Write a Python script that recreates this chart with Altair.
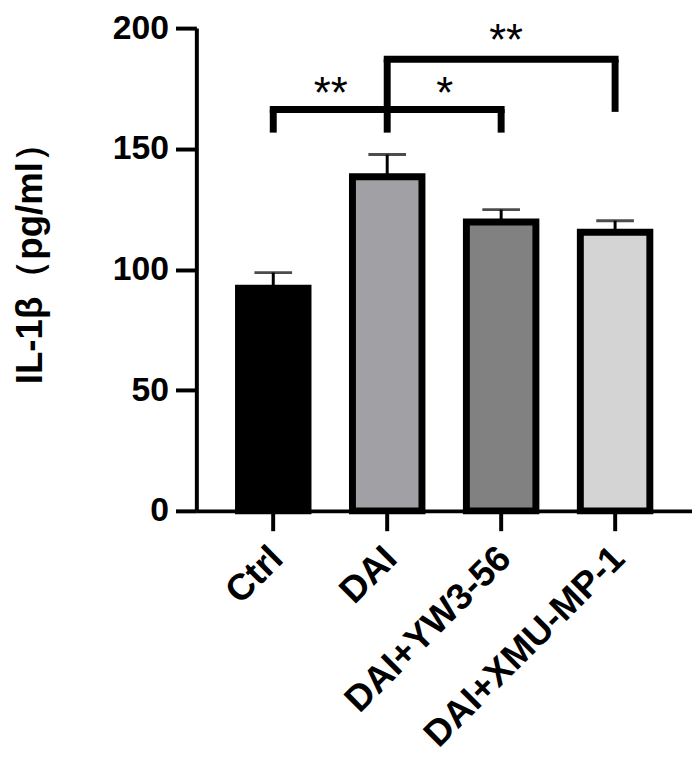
import altair as alt
import pandas as pd

groups = ["Ctrl", "DAI", "DAI+YW3-56", "DAI+XMU-MP-1"]
means = [92.2, 138.4, 119.7, 115.4]
errs = [6.5, 9.2, 5.1, 4.8]
fills = ["#000000", "#a1a1a5", "#818181", "#d4d4d4"]

# significance brackets
h_from = ["Ctrl", "DAI", "DAI"]
h_to = ["DAI", "DAI+YW3-56", "DAI+XMU-MP-1"]
h_y = [166.3, 166.3, 187.1]
leg_x = ["Ctrl", "DAI", "DAI+YW3-56", "DAI", "DAI+XMU-MP-1"]
leg_top = [166.3, 166.3, 166.3, 187.1, 187.1]
leg_bottom = [156.7, 156.7, 156.7, 166.3, 165.3]
star_lo_x = ["Ctrl", "DAI"]
star_lo_txt = ["**", "*"]
star_lo_y = [166.3, 166.3]
star_hi_x = ["DAI+YW3-56"]
star_hi_txt = ["**"]
star_hi_y = [187.1]

FONT = "Liberation Sans"

bars_df = pd.DataFrame({
    "group": groups,
    "mean": means,
    "upper": [m + e for m, e in zip(means, errs)],
})
h_df = pd.DataFrame({"a": h_from, "b": h_to, "y": h_y})
leg_df = pd.DataFrame({"g": leg_x, "y1": leg_top, "y2": leg_bottom})
slo_df = pd.DataFrame({"g": star_lo_x, "t": star_lo_txt, "y": star_lo_y})
shi_df = pd.DataFrame({"g": star_hi_x, "t": star_hi_txt, "y": star_hi_y})

xscale = alt.Scale(domain=groups, paddingInner=0.39, paddingOuter=0.37)
yscale = alt.Scale(domain=[0, 200], nice=False)

xenc = alt.X("group:N", scale=xscale, sort=groups,
             axis=alt.Axis(title=None, labelAngle=-45, labelFontSize=37,
                           labelFont=FONT, labelFontWeight="bold",
                           labelColor="black", tickSize=20, tickWidth=4,
                           tickColor="black", domainWidth=4,
                           domainColor="black", labelPadding=22,
                           labelOffset=4, labelLimit=0))
yenc = alt.Y("mean:Q", scale=yscale,
             axis=alt.Axis(title="IL-1β（pg/ml）", values=[0, 50, 100, 150, 200],
                           labelFontSize=34, labelFont=FONT,
                           labelFontWeight="bold", labelColor="black",
                           tickSize=21, tickWidth=4, tickColor="black",
                           domainWidth=4, domainColor="black",
                           labelPadding=7, titleFontSize=37, titleFont=FONT,
                           titleFontWeight="bold", titleColor="black",
                           titlePadding=63, titleY=228, grid=False))

base = alt.Chart(bars_df)

err_line = base.mark_rule(color="black", strokeWidth=3).encode(
    x=alt.X("group:N", scale=xscale, sort=groups),
    y=alt.Y("mean:Q", scale=yscale),
    y2="upper:Q",
)
err_cap = base.mark_tick(color="black", size=38, thickness=3, orient="horizontal").encode(
    x=alt.X("group:N", scale=xscale, sort=groups),
    y=alt.Y("upper:Q", scale=yscale),
)
bars = base.mark_bar(stroke="black", strokeWidth=7).encode(
    x=xenc,
    y=yenc,
    fill=alt.Fill("group:N", scale=alt.Scale(domain=groups, range=fills), legend=None),
)

hlines = alt.Chart(h_df).mark_rule(color="black", strokeWidth=7, strokeCap="square").encode(
    x=alt.X("a:N", scale=xscale, sort=groups),
    x2="b:N",
    y=alt.Y("y:Q", scale=yscale),
)
legs = alt.Chart(leg_df).mark_rule(color="black", strokeWidth=7).encode(
    x=alt.X("g:N", scale=xscale, sort=groups),
    y=alt.Y("y1:Q", scale=yscale),
    y2="y2:Q",
)
stars_lo = alt.Chart(slo_df).mark_text(font=FONT, fontSize=44, color="black",
                                       baseline="alphabetic", dx=58, dy=-1).encode(
    x=alt.X("g:N", scale=xscale, sort=groups),
    y=alt.Y("y:Q", scale=yscale),
    text="t:N",
)
stars_hi = alt.Chart(shi_df).mark_text(font=FONT, fontSize=44, color="black",
                                       baseline="alphabetic", dx=5, dy=-4).encode(
    x=alt.X("g:N", scale=xscale, sort=groups),
    y=alt.Y("y:Q", scale=yscale),
    text="t:N",
)

chart = alt.layer(err_line, err_cap, bars, hlines, legs, stars_lo, stars_hi).properties(
    width=500, height=487,
    autosize=alt.AutoSizeParams(type="none"),
    padding={"left": 190, "top": 17, "right": 0, "bottom": 244},
).configure_view(stroke=None).configure_axis(grid=False)

chart.save("out.html", embed_options={"renderer": "svg", "actions": False})
